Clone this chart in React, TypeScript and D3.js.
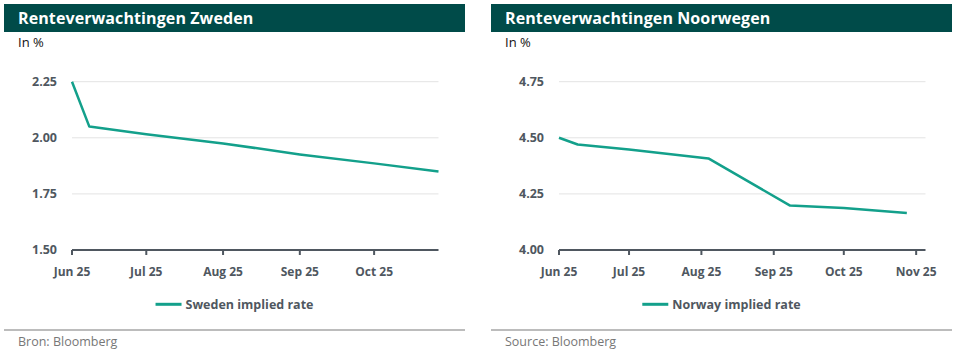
import React, { useRef, useEffect } from "react";
import * as d3 from "d3";

// Sweden implied policy rate (in %)
const swedenDates = ["2025-06-01", "2025-06-08", "2025-07-01", "2025-08-01", "2025-09-01", "2025-10-01", "2025-10-27"];
const swedenValues = [2.25, 2.05, 2.016, 1.975, 1.926, 1.886, 1.85];

// Norway implied policy rate (in %)
const norwayDates = ["2025-06-01", "2025-06-09", "2025-07-01", "2025-08-04", "2025-09-08", "2025-10-01", "2025-10-28"];
const norwayValues = [4.5, 4.47, 4.448, 4.408, 4.198, 4.187, 4.165];

const swedenTicks = [1.5, 1.75, 2.0, 2.25];
const norwayTicks = [4.0, 4.25, 4.5, 4.75];
const swedenMonths = ["2025-06-01", "2025-07-01", "2025-08-01", "2025-09-01", "2025-10-01"];
const norwayMonths = ["2025-06-01", "2025-07-01", "2025-08-01", "2025-09-01", "2025-10-01", "2025-11-01"];

const HEADER = "#004b49";
const LINE = "#13a08b";
const AXIS = "#4f5760";
const GRID = "#e3e3e3";
const FONT = "'Open Sans', 'Noto Sans', sans-serif";

interface PanelProps {
  title: string;
  source: string;
  legend: string;
  dates: string[];
  values: number[];
  yTicks: number[];
  months: string[];
  xEnd: string;
}

function Panel({ title, source, legend, dates, values, yTicks, months, xEnd }: PanelProps) {
  const ref = useRef<SVGSVGElement>(null);
  const W = 470;
  const H = 350;

  useEffect(() => {
    if (!ref.current) return;
    const svg = d3.select(ref.current);
    svg.selectAll("*").remove();

    const parse = d3.timeParse("%Y-%m-%d");
    const rows = dates.map((d, i) => ({ date: parse(d) as Date, v: values[i] }));
    const left = 68;
    const right = left + 366.5;

    const x = d3.scaleTime().domain([parse(dates[0]) as Date, parse(xEnd) as Date]).range([left, right]);
    const y = d3.scaleLinear().domain([yTicks[0], yTicks[yTicks.length - 1]]).range([250, 81.7]);

    // header
    svg.append("rect").attr("x", 0).attr("y", 4).attr("width", 461).attr("height", 28).attr("fill", HEADER);
    svg.append("text").attr("x", 14).attr("y", 24).attr("fill", "#fff").attr("font-family", FONT)
      .attr("font-weight", 700).attr("font-size", "16px").attr("letter-spacing", "0.1px").text(title);
    svg.append("text").attr("x", 14).attr("y", 47).attr("fill", "#111").attr("font-family", FONT)
      .attr("font-size", "13px").text("In %");

    // grid + y labels
    const g = svg.append("g");
    yTicks.forEach((t, i) => {
      if (i > 0) g.append("line").attr("x1", left).attr("x2", right).attr("y1", y(t)).attr("y2", y(t)).attr("stroke", GRID).attr("stroke-width", 1);
      g.append("text").attr("x", left - 15).attr("y", y(t)).attr("dy", "0.35em").attr("text-anchor", "end")
        .attr("fill", AXIS).attr("font-family", FONT).attr("font-weight", 700).attr("font-size", "12.5px")
        .text(d3.format(".2f")(t));
    });

    // x axis
    g.append("line").attr("x1", left).attr("x2", right).attr("y1", 250).attr("y2", 250).attr("stroke", AXIS).attr("stroke-width", 2);
    months.forEach((m) => {
      const d = parse(m) as Date;
      g.append("line").attr("x1", x(d)).attr("x2", x(d)).attr("y1", 250).attr("y2", 255).attr("stroke", AXIS).attr("stroke-width", 2);
      g.append("text").attr("x", x(d)).attr("y", 276).attr("text-anchor", "middle").attr("fill", AXIS)
        .attr("font-family", FONT).attr("font-weight", 700).attr("font-size", "12px")
        .text(d3.timeFormat("%b %y")(d));
    });

    // series
    const line = d3.line<{ date: Date; v: number }>().x((d) => x(d.date)).y((d) => y(d.v));
    g.append("path").datum(rows).attr("fill", "none").attr("stroke", LINE).attr("stroke-width", 2.5)
      .attr("stroke-linejoin", "round").attr("d", line);

    // legend
    const lg = svg.append("g");
    const lt = lg.append("text").attr("x", 30).attr("y", 309).attr("fill", AXIS).attr("font-family", FONT)
      .attr("font-weight", 700).attr("font-size", "12.5px").text(legend);
    const tw = (lt.node() as SVGTextElement).getComputedTextLength();
    const total = 30 + tw;
    lg.attr("transform", `translate(${230.5 - total / 2},0)`);
    lg.append("line").attr("x1", 0).attr("x2", 26).attr("y1", 304.3).attr("y2", 304.3).attr("stroke", LINE).attr("stroke-width", 3);

    // footer
    svg.append("line").attr("x1", 0).attr("x2", 461).attr("y1", 330).attr("y2", 330).attr("stroke", "#bcbcbc").attr("stroke-width", 2);
    svg.append("text").attr("x", 14).attr("y", 346).attr("fill", "#777").attr("font-family", FONT)
      .attr("font-size", "12.5px").text(source);
  }, [title, source, legend, dates, values, yTicks, months, xEnd]);

  return <svg ref={ref} width={W} height={H} style={{ display: "block" }} />;
}

export default function App() {
  return (
    <div style={{ position: "absolute", left: 0, top: 0, width: 959, height: 350, background: "#fff" }}>
      <div style={{ position: "absolute", left: 4, top: 0 }}>
        <Panel title="Renteverwachtingen Zweden" source="Bron: Bloomberg" legend="Sweden implied rate"
          dates={swedenDates} values={swedenValues} yTicks={swedenTicks} months={swedenMonths} xEnd="2025-10-27" />
      </div>
      <div style={{ position: "absolute", left: 491, top: 0 }}>
        <Panel title="Renteverwachtingen Noorwegen" source="Source: Bloomberg" legend="Norway implied rate"
          dates={norwayDates} values={norwayValues} yTicks={norwayTicks} months={norwayMonths} xEnd="2025-11-05" />
      </div>
    </div>
  );
}
